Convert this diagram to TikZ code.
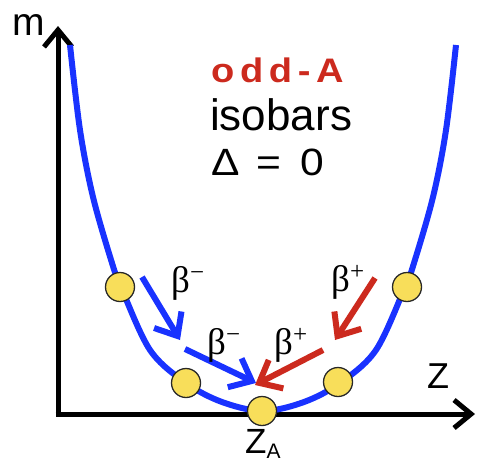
\documentclass[tikz,border=0pt]{standalone}
\usepackage{fontspec}
\setmainfont{Liberation Sans}
\newfontfamily\betafont{Liberation Serif}
\usetikzlibrary{arrows.meta}
\definecolor{curveblue}{RGB}{25,50,255}
\definecolor{decayred}{RGB}{204,42,30}
\definecolor{ballyellow}{RGB}{248,222,90}
\definecolor{balledge}{RGB}{40,40,40}
\tikzset{
  axisline/.style={line width=5pt, -{Straight Barb[length=17pt,width=28pt]}},
  curveline/.style={curveblue, line width=6pt},
  ball/.style={circle, minimum size=29pt, inner sep=0pt, fill=ballyellow, draw=balledge, line width=1.3pt},
  decay/.style={line width=6pt, -{Straight Barb[length=19pt,width=32pt]}},
  lbl/.style={inner sep=0pt, anchor=base west},
  betalbl/.style={inner sep=0pt, anchor=base west, font=\betafont\fontsize{37}{37}\selectfont}
}
\begin{document}
\begin{tikzpicture}[x=1pt,y=-1pt]
\useasboundingbox (0,0) rectangle (478,463);
% axes
\coordinate (origin) at (58,414);
\coordinate (ytip) at (58,26);
\coordinate (xtip) at (475,414);
\draw[axisline] (origin) -- (ytip);
\draw[axisline] ([xshift=-2.5pt]origin) -- (xtip);
% curve
\draw[curveline] plot[smooth, tension=0.55] coordinates {
 (70,45) (80,130) (93,197) (112,263) (121,287) (150,350) (186,383) (222,402) (263,411)
 (304,402) (340,383) (376,350) (405,287) (414,263) (433,197) (446,130) (456,45)};
% nuclei
\node[ball] (n1) at (120,287) {};
\node[ball] (n2) at (186,383) {};
\node[ball] (n3) at (262,411) {};
\node[ball] (n4) at (338,382) {};
\node[ball] (n5) at (407,287) {};
% decay arrows
\coordinate (bm1s) at (142,277);
\coordinate (bm1e) at (180,340);
\coordinate (bm2s) at (185,349);
\coordinate (bm2e) at (256,383);
\coordinate (bp1s) at (375,278);
\coordinate (bp1e) at (335,340);
\coordinate (bp2s) at (323,350);
\coordinate (bp2e) at (255,385);
\draw[decay, curveblue] (bm1s) -- (bm1e);
\draw[decay, curveblue] (bm2s) -- (bm2e);
\draw[decay, decayred] (bp1s) -- (bp1e);
\draw[decay, decayred] (bp2s) -- (bp2e);
% decay labels
\node[betalbl] (lm1) at (171,292) {β\raisebox{0.3em}{\fontsize{25}{25}\selectfont −}};
\node[betalbl] (lm2) at (207,354) {β\raisebox{0.3em}{\fontsize{25}{25}\selectfont −}};
\node[betalbl] (lp1) at (331,291) {β\raisebox{0.3em}{\fontsize{25}{25}\selectfont +}};
\node[betalbl] (lp2) at (274,354) {β\raisebox{0.3em}{\fontsize{25}{25}\selectfont +}};
% axis labels
\node[lbl, font=\fontsize{39}{39}\selectfont] (mlabel) at (12,35) {m};
\node[lbl, font=\fontsize{36}{36}\selectfont] (zlabel) at (427,388) {Z};
\node[lbl, font=\fontsize{35}{35}\selectfont] (zalabel) at (245,453) {Z\raisebox{-5.5pt}{\fontsize{21}{21}\selectfont A}};
% title text
\node[lbl, text=decayred, font=\bfseries\fontsize{34}{34}\selectfont] (t1) at (211,82)
  {\scalebox{1.12}[1]{o\hspace{5pt}d\hspace{5pt}d\hspace{5pt}-\hspace{5pt}A}};
\node[lbl, font=\fontsize{44}{44}\selectfont] (t2) at (210,130) {isobars};
\node[lbl, font=\fontsize{38}{38}\selectfont] (t3) at (211,175) {\scalebox{1.12}[1]{Δ\hspace{15pt}=\hspace{17pt}0}};
\end{tikzpicture}
\end{document}
